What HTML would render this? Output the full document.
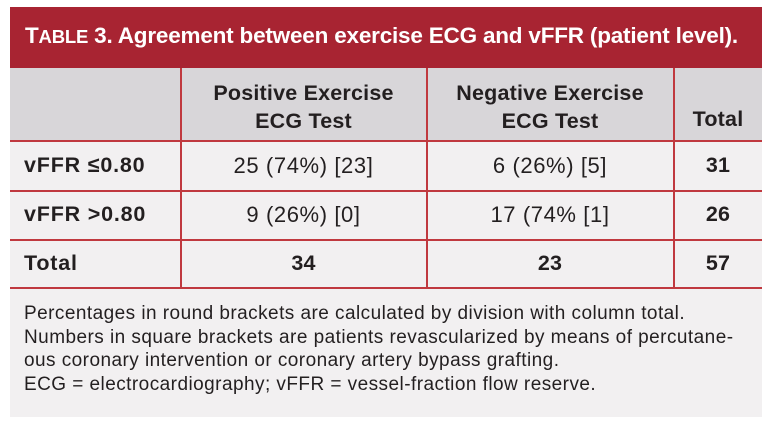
<!DOCTYPE html>
<html><head><style>
body{margin:0;width:770px;height:424px;background:#fff;font-family:"Liberation Sans",sans-serif;position:relative;overflow:hidden}
.a{position:absolute}
.hd{left:10px;top:7px;width:752px;height:61px;background:#a82432;color:#fff;font-weight:bold;font-size:22.5px;letter-spacing:-0.2px}
.gr{left:10px;top:68px;width:752px;height:72px;background:#d8d6d9}
.bd{left:10px;top:140px;width:752px;height:277px;background:#f2f0f1}
.h{background:#c0393f}
.t{color:#231f20;font-weight:bold;font-size:21.5px;text-align:center;letter-spacing:0.2px;white-space:nowrap}
.n{font-weight:normal;font-size:22px;letter-spacing:0.6px}
.f{color:#231f20;font-size:19px;line-height:23.5px;left:24px;top:302px;letter-spacing:0.45px;white-space:nowrap}
</style></head><body>
<div class="a hd"><div class="a" style="left:15px;top:16px;white-space:nowrap">T<span style="font-size:18.5px">ABLE</span> 3. Agreement between exercise ECG and vFFR (patient level).</div></div>
<div class="a gr"></div>
<div class="a bd"></div>
<div class="a h" style="left:10px;top:140px;width:752px;height:1.5px"></div>
<div class="a h" style="left:10px;top:190px;width:752px;height:1.5px"></div>
<div class="a h" style="left:10px;top:239px;width:752px;height:1.5px"></div>
<div class="a h" style="left:10px;top:287px;width:752px;height:1.5px"></div>
<div class="a h" style="left:180px;top:68px;width:1.5px;height:220px"></div>
<div class="a h" style="left:426px;top:68px;width:1.5px;height:220px"></div>
<div class="a h" style="left:673px;top:68px;width:1.5px;height:220px"></div>
<div class="a t" style="left:181px;top:79px;width:245px;line-height:28px">Positive Exercise<br>ECG Test</div>
<div class="a t" style="left:427px;top:79px;width:246px;line-height:28px">Negative Exercise<br>ECG Test</div>
<div class="a t" style="left:674px;top:107px;width:88px">Total</div>
<div class="a t" style="left:24px;top:153px;text-align:left;letter-spacing:0.8px">vFFR ≤0.80</div>
<div class="a t" style="left:24px;top:202px;text-align:left;letter-spacing:0.8px">vFFR &gt;0.80</div>
<div class="a t" style="left:24px;top:251px;text-align:left;letter-spacing:0.8px">Total</div>
<div class="a t n" style="left:181px;top:153px;width:245px">25 (74%) [23]</div>
<div class="a t n" style="left:427px;top:153px;width:246px">6 (26%) [5]</div>
<div class="a t" style="left:674px;top:153px;width:88px">31</div>
<div class="a t n" style="left:181px;top:202px;width:245px">9 (26%) [0]</div>
<div class="a t n" style="left:427px;top:202px;width:246px">17 (74% [1]</div>
<div class="a t" style="left:674px;top:202px;width:88px">26</div>
<div class="a t" style="left:181px;top:251px;width:245px">34</div>
<div class="a t" style="left:427px;top:251px;width:246px">23</div>
<div class="a t" style="left:674px;top:251px;width:88px">57</div>
<div class="a f">Percentages in round brackets are calculated by division with column total.<br>Numbers in square brackets are patients revascularized by means of percutane-<br>ous coronary intervention or coronary artery bypass grafting.<br>ECG = electrocardiography; vFFR = vessel-fraction flow reserve.</div>
</body></html>
